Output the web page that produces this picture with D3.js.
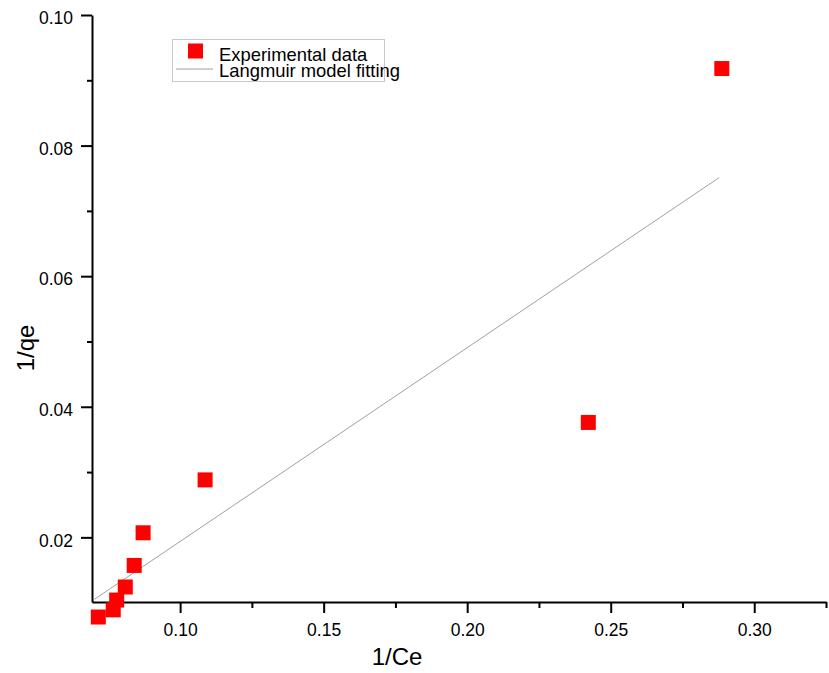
<!DOCTYPE html>
<html>
<head>
<meta charset="utf-8">
<script src="https://cdn.jsdelivr.net/npm/d3@7"></script>
<style>
  html, body { margin: 0; padding: 0; background: #fff; }
  svg { display: block; font-family: "Liberation Sans", Arial, sans-serif; }
</style>
</head>
<body>
<svg id="chart" width="829" height="673"></svg>
<script>
// Experimental isotherm points (1/Ce, 1/qe)
const invCe = [0.0715, 0.0767, 0.0779, 0.0809, 0.0840, 0.0871, 0.1087, 0.2422, 0.2887];
const invQe = [0.0078, 0.0089, 0.0104, 0.0124, 0.0157, 0.0207, 0.0288, 0.0376, 0.0918];

// Langmuir linear fit, drawn between its two end points
const fitX = [0.0701, 0.2878];
const fitY = [0.0105, 0.0751];

// Axis ticks
const xMajor = [0.10, 0.15, 0.20, 0.25, 0.30];
const xMinor = [0.075, 0.125, 0.175, 0.225, 0.275, 0.325];
const yMajor = [0.02, 0.04, 0.06, 0.08, 0.10];
const yMinor = [0.03, 0.05, 0.07, 0.09];

const legendLabels = ["Experimental data", "Langmuir model fitting"];

const svg = d3.select("#chart");
const plotLeft = 92, plotRight = 826, plotTop = 15, plotBottom = 602;

const x = d3.scaleLinear().domain([0.0693, 0.325]).range([plotLeft, plotRight]);
const y = d3.scaleLinear().domain([0.0101, 0.10]).range([plotBottom, plotTop]);

const fmt = d3.format(".2f");

// X axis
const gx = svg.append("g").attr("transform", `translate(0,${plotBottom})`);
gx.call(d3.axisBottom(x).tickValues(xMajor).tickFormat(fmt).tickSize(11).tickSizeOuter(0).tickPadding(5));
gx.append("g").call(d3.axisBottom(x).tickValues(xMinor).tickFormat("").tickSize(6).tickSizeOuter(0))
  .select(".domain").remove();

// Y axis
const gy = svg.append("g").attr("transform", `translate(${plotLeft},0)`);
gy.call(d3.axisLeft(y).tickValues(yMajor).tickFormat(fmt).tickSize(11).tickSizeOuter(0).tickPadding(8));
gy.append("g").call(d3.axisLeft(y).tickValues(yMinor).tickFormat("").tickSize(5).tickSizeOuter(0))
  .select(".domain").remove();

svg.selectAll(".domain, .tick line").attr("stroke", "#000").attr("stroke-width", 2);
gx.selectAll(".tick text").attr("font-size", 17.5).attr("fill", "#000")
  .attr("font-family", "Liberation Sans, Arial, sans-serif").attr("dy", "1.05em");
gy.selectAll(".tick text").attr("font-size", 17.5).attr("fill", "#000")
  .attr("font-family", "Liberation Sans, Arial, sans-serif").attr("dy", "0.5em");

// Axis titles
svg.append("text").attr("x", 397).attr("y", 665).attr("text-anchor", "middle")
  .attr("font-size", 24).attr("fill", "#000").text("1/Ce");
svg.append("text").attr("transform", "translate(34,348) rotate(-90)").attr("text-anchor", "middle")
  .attr("font-size", 24).attr("fill", "#000").text("1/qe");

// Fitted line
svg.append("line")
  .attr("x1", x(fitX[0])).attr("y1", y(fitY[0]))
  .attr("x2", x(fitX[1])).attr("y2", y(fitY[1]))
  .attr("stroke", "#a0a0a0").attr("stroke-width", 1);

// Data squares
const sq = 15;
svg.append("g").selectAll("rect").data(invCe.map((v, i) => [v, invQe[i]])).join("rect")
  .attr("x", d => x(d[0]) - sq / 2).attr("y", d => y(d[1]) - sq / 2)
  .attr("width", sq).attr("height", sq).attr("fill", "#ff0000");

// Legend
const lg = svg.append("g");
lg.append("rect").attr("x", 172.5).attr("y", 39.5).attr("width", 212).attr("height", 42)
  .attr("fill", "none").attr("stroke", "#c8c8c8").attr("stroke-width", 1);
lg.append("rect").attr("x", 188).attr("y", 43.5).attr("width", 15).attr("height", 15).attr("fill", "#ff0000");
lg.append("line").attr("x1", 176).attr("x2", 213).attr("y1", 69).attr("y2", 69)
  .attr("stroke", "#a0a0a0").attr("stroke-width", 1);
lg.selectAll("text").data(legendLabels).join("text")
  .attr("x", 219).attr("y", (d, i) => 60.5 + i * 16)
  .attr("font-size", 18.4).attr("fill", "#000").text(d => d);
</script>
</body>
</html>
